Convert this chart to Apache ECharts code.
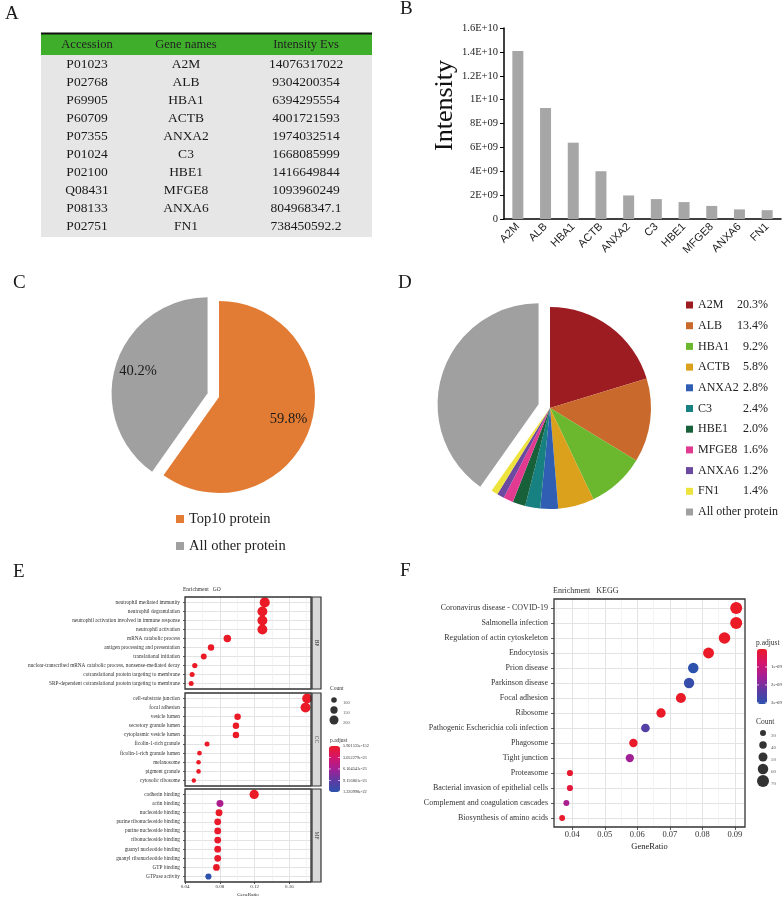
<!DOCTYPE html>
<html>
<head>
<meta charset="utf-8">
<title>Proteomics figure</title>
<script src="https://cdn.jsdelivr.net/npm/echarts@6.0.0/dist/echarts.min.js"></script>
<style>
html,body{margin:0;padding:0;background:#ffffff;}
#chart{width:784px;height:897px;}
</style>
</head>
<body>
<div id="chart"></div>
<script>
// ---------------- Panel A / B data ----------------
const accessions = ['P01023','P02768','P69905','P60709','P07355','P01024','P02100','Q08431','P08133','P02751'];
const geneNames = ['A2M','ALB','HBA1','ACTB','ANXA2','C3','HBE1','MFGE8','ANXA6','FN1'];
const intensityText = ['14076317022','9304200354','6394295554','4001721593','1974032514','1668085999','1416649844','1093960249','804968347.1','738450592.2'];
const intensities = [14076317022,9304200354,6394295554,4001721593,1974032514,1668085999,1416649844,1093960249,804968347.1,738450592.2];
const tableHeaders = ['Accession','Gene names','Intensity Evs'];
const bTickLabels = ['0','2E+09','4E+09','6E+09','8E+09','1E+10','1.2E+10','1.4E+10','1.6E+10'];

// ---------------- Panel C ----------------
const cNames = ['Top10 protein','All other protein'];
const cValues = [59.8, 40.2];

// ---------------- Panel D ----------------
const dPercentText = ['20.3%','13.4%','9.2%','5.8%','2.8%','2.4%','2.0%','1.6%','1.2%','1.4%'];
const dOtherName = 'All other protein';
const dOtherValue = 27880000000;

// ---------------- Panel E (GO) ----------------
const goBPTerms = ['neutrophil mediated immunity','neutrophil degranulation','neutrophil activation involved in immune response','neutrophil activation','mRNA catabolic process','antigen processing and presentation','translational initiation','nuclear-transcribed mRNA catabolic process, nonsense-mediated decay','cotranslational protein targeting to membrane','SRP-dependent cotranslational protein targeting to membrane'];
const goBPRatio = [0.1317,0.1290,0.1290,0.1290,0.0886,0.0698,0.0614,0.0511,0.0480,0.0469];
const goBPCount = [232,227,227,227,156,123,108,90,84,83];
const goBPPadj = [5.901535e-152,2.1e-150,2.1e-150,4.3e-149,8.2e-60,1.3e-45,6.5e-50,2.2e-48,3.1e-52,4.0e-53];

const goCCTerms = ['cell-substrate junction','focal adhesion','vesicle lumen','secretory granule lumen','cytoplasmic vesicle lumen','ficolin-1-rich granule','ficolin-1-rich granule lumen','melanosome','pigment granule','cytosolic ribosome'];
const goCCRatio = [0.1806,0.1787,0.1004,0.0985,0.0985,0.0652,0.0565,0.0554,0.0554,0.0500];
const goCCCount = [229,227,127,125,125,83,72,70,70,64];
const goCCPadj = [2.4e-120,1.1e-119,3.3e-70,2.9e-69,8.8e-68,4.1e-50,7.7e-42,1.2e-40,1.2e-40,5.5e-45];

const goMFTerms = ['cadherin binding','actin binding','nucleoside binding','purine ribonucleoside binding','purine nucleoside binding','ribonucleoside binding','guanyl nucleotide binding','guanyl ribonucleotide binding','GTP binding','GTPase activity'];
const goMFRatio = [0.1195,0.0801,0.0790,0.0775,0.0775,0.0775,0.0775,0.0775,0.0760,0.0668];
const goMFCount = [209,140,138,136,136,136,136,136,133,117];
const goMFPadj = [3.2e-60,5.6e-23,4.1e-25,1.8e-24,2.0e-24,2.1e-24,2.3e-24,2.3e-24,9.0e-25,1.220998e-22];

const goXMajor = [0.04,0.08,0.12,0.16];
const goXMinor = [0.06,0.10,0.14,0.18];
const goCountLegend = [100,150,200];
const goPadjLegendText = ['5.901535e-152','3.052279e-23','6.104541e-23','9.156801e-23','1.220998e-22'];
const goPadjLegendVals = [5.901535e-152,3.052279e-23,6.104541e-23,9.156801e-23,1.220998e-22];

// ---------------- Panel F (KEGG) ----------------
const keggTerms = ['Coronavirus disease - COVID-19','Salmonella infection','Regulation of actin cytoskeleton','Endocytosis','Prion disease','Parkinson disease','Focal adhesion','Ribosome','Pathogenic Escherichia coli infection','Phagosome','Tight junction','Proteasome','Bacterial invasion of epithelial cells','Complement and coagulation cascades','Biosynthesis of amino acids'];
const keggRatio = [0.0904,0.0904,0.0868,0.0819,0.0772,0.0759,0.0734,0.0673,0.0625,0.0588,0.0577,0.0393,0.0393,0.0382,0.0369];
const keggCount = [70,70,67,63,60,59,57,52,48,46,45,31,31,30,29];
const keggPadj = [2.1e-13,3.5e-14,8.0e-12,1.2e-11,3.05e-9,2.9e-9,2.4e-11,5.1e-12,2.45e-9,4.2e-11,1.55e-9,1.1e-10,2.3e-10,1.45e-9,6.0e-11];
const keggXMajor = [0.04,0.05,0.06,0.07,0.08,0.09];
const keggXMinor = [0.035,0.045,0.055,0.065,0.075,0.085];
const keggCountLegend = [30,40,50,60,70];
const keggPadjLegendText = ['1e-09','2e-09','3e-09'];
const keggPadjLegendVals = [1e-9,2e-9,3e-9];

// ---------------- styling ----------------
const SERIF = '"Liberation Serif", "Times New Roman", serif';
const SANS = '"Liberation Sans", Arial, sans-serif';
const pColors = ['#ea1a26','#d5156c','#a41f95','#5e3aa2','#2c52ae'];
const dColors = ['#9c1c22','#c9692c','#6bb82e','#dba11d','#2f5eb3','#178080','#17603a','#e33a91','#6c49a0','#eee33c'];
const GREY = '#a0a0a0';

const grid = [], xAxis = [], yAxis = [], series = [], graphic = [];

function T(x, y, text, size, style, el) {
  return Object.assign({type:'text', x:x, y:y, silent:true, z:100,
    style: Object.assign({text:text, fontSize:size, fontFamily:SERIF, fill:'#1a1a1a',
      align:'center', verticalAlign:'middle', textAlign:'center', textVerticalAlign:'middle'}, style || {})}, el || {});
}

// ---------------- Panel letters ----------------
[['A',5,14.5],['B',400,9],['C',13,283.5],['D',398,283.5],['E',13,572.5],['F',400,571.5]].forEach(function(p){
  graphic.push(T(p[1], p[2], p[0], 19, {align:'left', textAlign:'left'}));
});

// ---------------- Panel A table ----------------
(function(){
  const L = 41, R = 372, top = 33, headH = 21, rowH = 18.1;
  const colX = [87, 186, 306];
  graphic.push({type:'rect', shape:{x:L, y:top+1, width:R-L, height:headH}, style:{fill:'#3eae2b'}, silent:true});
  graphic.push({type:'rect', shape:{x:L, y:top+1+headH, width:R-L, height:rowH*accessions.length + 1}, style:{fill:'#e6e6e6'}, silent:true});
  graphic.push({type:'line', shape:{x1:L, y1:top+0.5, x2:R, y2:top+0.5}, style:{stroke:'#111', lineWidth:2}, silent:true});
  tableHeaders.forEach(function(h,j){ graphic.push(T(colX[j], top+1+headH/2, h, 12.5, {fill:'#222'})); });
  accessions.forEach(function(a,i){
    const y = top + 1 + headH + rowH*(i+0.5);
    graphic.push(T(colX[0], y, a, 13.5));
    graphic.push(T(colX[1], y, geneNames[i], 13.5));
    graphic.push(T(colX[2], y, intensityText[i], 13.5));
  });
})();

// ---------------- Panel B bar chart ----------------
grid.push({left:504, top:28, width:277, height:191, outerBoundsMode:'none'});
xAxis.push({gridIndex:0, type:'category', data:geneNames,
  axisLine:{onZero:false, lineStyle:{color:'#000', width:1.5}}, axisTick:{show:false},
  axisLabel:{rotate:45, interval:0, fontFamily:SANS, fontSize:11, color:'#222', margin:6}});
yAxis.push({gridIndex:0, type:'value', min:0, max:1.6e10, interval:2e9,
  axisLine:{show:true, onZero:false, lineStyle:{color:'#000', width:1.5}},
  axisTick:{show:true, length:4, lineStyle:{color:'#000'}},
  axisLabel:{fontFamily:SERIF, fontSize:10.5, color:'#222', margin:6, formatter:function(v){ return bTickLabels[Math.round(v/2e9)]; }},
  splitLine:{show:false},
  name:'Intensity', nameLocation:'middle', nameGap:40, nameRotate:90,
  nameTextStyle:{fontFamily:SERIF, fontSize:26, color:'#111', padding:[0,0,0,36]}});
series.push({type:'bar', xAxisIndex:0, yAxisIndex:0, data:intensities, barWidth:11, itemStyle:{color:'#a6a6a6'}, silent:true});

// ---------------- Panel C pie ----------------
const cColors = ['#e27c34', GREY];
const cData = cNames.map(function(n,i){ return {name:n, value:cValues[i], selected:i===1, itemStyle:{color:cColors[i]}}; });
series.push({type:'pie', center:[219,397], radius:96, startAngle:90, clockwise:true,
  selectedMode:'single', selectedOffset:12, data:cData, label:{show:false}, labelLine:{show:false}, silent:true, emphasis:{disabled:true}});
series.push({type:'pie', center:[219,397], radius:[44,96], startAngle:90, clockwise:true,
  selectedMode:'single', selectedOffset:12,
  data:cNames.map(function(n,i){ return {name:n, value:cValues[i], selected:i===1}; }),
  itemStyle:{color:'rgba(0,0,0,0)'}, labelLine:{show:false}, silent:true, emphasis:{disabled:true},
  label:{show:true, position:'inside', formatter:'{c}%', fontFamily:SERIF, fontSize:14.5, color:'#1a1a1a'}});

// ---------------- Panel D pie ----------------
const dData = geneNames.map(function(n,i){ return {name:n, value:intensities[i], itemStyle:{color:dColors[i]}}; });
dData.push({name:dOtherName, value:dOtherValue, selected:true, itemStyle:{color:GREY}});
series.push({type:'pie', center:[550,408], radius:101, startAngle:90, clockwise:true,
  selectedMode:'single', selectedOffset:12, data:dData, label:{show:false}, labelLine:{show:false}, silent:true, emphasis:{disabled:true}});

// ---------------- Dot plot facets ----------------
const eSize = function(v){ return 2.2 + 0.034*v[2]; };
const fSize = function(v){ return 1.5 + 0.15*v[2]; };

function dotFacet(o) {
  const gi = grid.length;
  grid.push({left:o.left, top:o.top, width:o.width, height:o.height, outerBoundsMode:'none'});
  const n = o.terms.length;
  const xi = xAxis.length;
  xAxis.push({gridIndex:gi, type:'value', min:o.xmin, max:o.xmax, position:'bottom', axisLine:{show:false, onZero:false},
    axisTick:{show:o.showX, customValues:o.majors, length:o.tickLen, lineStyle:{color:'#333', width:0.8}},
    axisLabel:{show:o.showX, customValues:o.majors, formatter:function(v){ return v.toFixed(2); }, fontFamily:SERIF, fontSize:o.xFont, color:'#333', margin:o.xMargin},
    splitLine:{show:true, lineStyle:{color:'#e3e3e3', width:1}},
    name:o.showX ? 'GeneRatio' : '', nameLocation:'middle', nameGap:o.nameGap,
    nameTextStyle:{fontFamily:SERIF, fontSize:o.xFont, color:'#222'}});
  xAxis.push({gridIndex:gi, type:'value', min:o.xmin, max:o.xmax, position:'top', axisLine:{show:false, onZero:false},
    axisTick:{show:false, customValues:o.minors}, axisLabel:{show:false},
    splitLine:{show:true, lineStyle:{color:'#efefef', width:0.7}}});
  const yi = yAxis.length;
  // rows are numbered from 1 (top) to n (bottom)
  const rows = o.terms.map(function(t,i){ return i + 1; });
  yAxis.push({gridIndex:gi, type:'value', min:0.4, max:n+0.6, inverse:true, axisLine:{show:false, onZero:false},
    axisTick:{show:true, customValues:rows, length:o.tickLen, lineStyle:{color:'#333', width:0.8}},
    axisLabel:{customValues:rows, formatter:function(v){ return o.terms[Math.round(v) - 1]; }, fontFamily:SERIF, fontSize:o.yFont, color:'#333', margin:o.yMargin},
    splitLine:{show:true, lineStyle:{color:'#e3e3e3', width:1}}});
  series.push({type:'scatter', xAxisIndex:xi, yAxisIndex:yi,
    data:o.ratio.map(function(r,i){ return [r, i + 1, o.count[i], o.padj[i]]; }),
    symbolSize:o.size, itemStyle:{opacity:1}, z:5, silent:true});
  graphic.push({type:'rect', shape:{x:o.left, y:o.top, width:o.width, height:o.height}, style:{fill:null, stroke:'#333', lineWidth:1.3}, silent:true, z:60});
  if (o.strip) {
    const sx = o.left + o.width + 1;
    graphic.push({type:'rect', shape:{x:sx, y:o.top, width:9, height:o.height}, style:{fill:'#d9d9d9', stroke:'#333', lineWidth:1.2}, silent:true, z:60});
    graphic.push(T(sx + 4.5, o.top + o.height/2, o.strip, 5.5, {fill:'#333'}, {rotation:-Math.PI/2}));
  }
  return series.length - 1;
}

const eCommon = {left:185, width:126, xmin:0.0398, xmax:0.185, majors:goXMajor, minors:goXMinor,
  tickLen:2, xFont:5, xMargin:2, nameGap:10, yFont:5.3, yMargin:5, size:eSize};
const eBP = dotFacet(Object.assign({}, eCommon, {top:597, height:92, terms:goBPTerms, ratio:goBPRatio, count:goBPCount, padj:goBPPadj, showX:false, strip:'BP'}));
const eCC = dotFacet(Object.assign({}, eCommon, {top:693, height:93, terms:goCCTerms, ratio:goCCRatio, count:goCCCount, padj:goCCPadj, showX:false, strip:'CC'}));
const eMF = dotFacet(Object.assign({}, eCommon, {top:789, height:93, terms:goMFTerms, ratio:goMFRatio, count:goMFCount, padj:goMFPadj, showX:true, strip:'MF'}));

const fK = dotFacet({left:554, top:599, width:191, height:228, xmin:0.0344, xmax:0.0931, majors:keggXMajor, minors:keggXMinor,
  tickLen:3, xFont:8.5, xMargin:3, nameGap:15, yFont:8, yMargin:6, size:fSize,
  terms:keggTerms, ratio:keggRatio, count:keggCount, padj:keggPadj, showX:true, strip:null});

// ---------------- Count (size) legends ----------------
function sizeLegend(left, top, w, h, counts, sizeFn, labelX, fs) {
  const gi = grid.length;
  grid.push({left:left, top:top, width:w, height:h, outerBoundsMode:'none'});
  const xi = xAxis.length, yi = yAxis.length;
  xAxis.push({gridIndex:gi, type:'value', min:0, max:1, show:false});
  yAxis.push({gridIndex:gi, type:'value', min:0.5, max:counts.length+0.5, inverse:true, show:false});
  series.push({type:'scatter', xAxisIndex:xi, yAxisIndex:yi, silent:true,
    data:counts.map(function(c,i){ return [0.5, i + 1, c]; }), symbolSize:sizeFn,
    itemStyle:{color:'#000'},
    label:{show:true, position:'right', formatter:function(p){ return String(p.data[2]); }, fontFamily:SERIF, fontSize:fs, color:'#333'},
    labelLayout:function(){ return {x:labelX, align:'left'}; }});
}
sizeLegend(329, 695, 10, 30, goCountLegend, eSize, 343, 4.5);
sizeLegend(758, 727, 10, 60, keggCountLegend, fSize, 771, 5);

// ---------------- legend titles & colour bar labels ----------------
graphic.push(T(183, 590, 'Enrichment   GO', 5.5, {align:'left', textAlign:'left', fill:'#333'}));
graphic.push(T(553, 591, 'Enrichment   KEGG', 8, {align:'left', textAlign:'left', fill:'#333'}));
graphic.push(T(330, 689, 'Count', 5.5, {align:'left', textAlign:'left', fill:'#333'}));
graphic.push(T(330, 741, 'p.adjust', 5.5, {align:'left', textAlign:'left', fill:'#333'}));
graphic.push(T(756, 722, 'Count', 7.5, {align:'left', textAlign:'left', fill:'#333'}));
graphic.push(T(756, 643, 'p.adjust', 7.5, {align:'left', textAlign:'left', fill:'#333'}));

const eBar = {x:329, y:746, w:11, h:46, min:goPadjLegendVals[0], max:goPadjLegendVals[goPadjLegendVals.length-1]};
goPadjLegendVals.forEach(function(v,i){
  const y = eBar.y + eBar.h*(v - eBar.min)/(eBar.max - eBar.min);
  graphic.push(T(343, y, goPadjLegendText[i], 4.3, {align:'left', textAlign:'left', fill:'#333'}));
  graphic.push({type:'line', shape:{x1:eBar.x, y1:y, x2:eBar.x+2, y2:y}, style:{stroke:'#fff', lineWidth:0.6}, silent:true, z:70});
  graphic.push({type:'line', shape:{x1:eBar.x+eBar.w-2, y1:y, x2:eBar.x+eBar.w, y2:y}, style:{stroke:'#fff', lineWidth:0.6}, silent:true, z:70});
});
const fBar = {x:757, y:649, w:10, h:55, min:0, max:3.06e-9};
keggPadjLegendVals.forEach(function(v,i){
  const y = fBar.y + fBar.h*(v - fBar.min)/(fBar.max - fBar.min);
  graphic.push(T(771, y, keggPadjLegendText[i], 4.8, {align:'left', textAlign:'left', fill:'#333'}));
  graphic.push({type:'line', shape:{x1:fBar.x, y1:y, x2:fBar.x+2, y2:y}, style:{stroke:'#fff', lineWidth:0.7}, silent:true, z:70});
  graphic.push({type:'line', shape:{x1:fBar.x+fBar.w-2, y1:y, x2:fBar.x+fBar.w, y2:y}, style:{stroke:'#fff', lineWidth:0.7}, silent:true, z:70});
});

// ---------------- build chart ----------------
const chart = echarts.init(document.getElementById('chart'), null, {renderer:'canvas', width:784, height:897});
chart.setOption({
  animation:false,
  backgroundColor:'#ffffff',
  textStyle:{fontFamily:SERIF},
  grid:grid, xAxis:xAxis, yAxis:yAxis, series:series,
  legend:[
    {data:cNames, selectedMode:false, orient:'vertical', left:176, top:511, padding:0, itemWidth:8, itemHeight:8, icon:'rect', itemGap:11,
     textStyle:{fontFamily:SERIF, fontSize:14.5, color:'#222', lineHeight:16}},
    {data:geneNames.concat([dOtherName]), selectedMode:false, orient:'vertical', left:686, top:298, padding:0, itemWidth:7, itemHeight:7, icon:'rect', itemGap:6.7,
     formatter:function(name){ const i = geneNames.indexOf(name); return i >= 0 ? '{n|' + name + '}{p|' + dPercentText[i] + '}' : '{o|' + name + '}'; },
     textStyle:{fontFamily:SERIF, fontSize:12, color:'#222', lineHeight:14,
       rich:{n:{width:42, fontFamily:SERIF, fontSize:12, color:'#222', lineHeight:14},
             p:{width:28, align:'right', fontFamily:SERIF, fontSize:12, color:'#222', lineHeight:14},
             o:{fontFamily:SERIF, fontSize:12, color:'#222', lineHeight:14}}}}
  ],
  visualMap:[
    {type:'continuous', seriesIndex:[eBP,eCC,eMF], dimension:3, min:eBar.min, max:eBar.max, inverse:true,
     inRange:{color:pColors}, left:eBar.x, top:eBar.y, itemWidth:eBar.w, itemHeight:eBar.h, padding:0, calculable:false, hoverLink:false, text:null, show:true},
    {type:'continuous', seriesIndex:[fK], dimension:3, min:fBar.min, max:fBar.max, inverse:true,
     inRange:{color:pColors}, left:fBar.x, top:fBar.y, itemWidth:fBar.w, itemHeight:fBar.h, padding:0, calculable:false, hoverLink:false, text:null, show:true}
  ],
  graphic:{elements:graphic}
});
</script>
</body>
</html>
